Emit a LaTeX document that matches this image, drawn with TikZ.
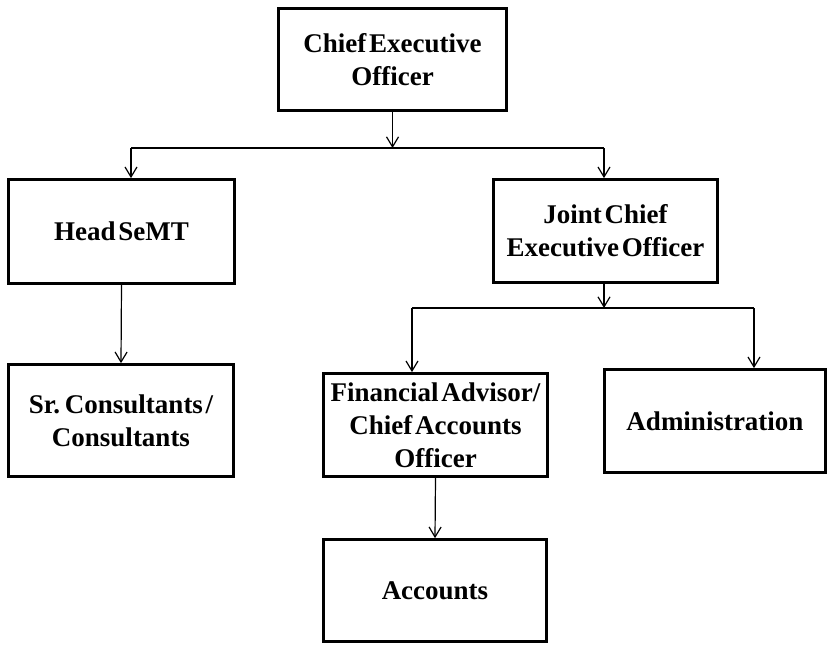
\documentclass[tikz,border=0pt]{standalone}
\usepackage{fontspec}
\setmainfont{Liberation Serif}[WordSpace=0.4]
\usetikzlibrary{arrows.meta}
\begin{document}
\begin{tikzpicture}[x=1pt,y=-1pt,
  box/.style={draw, line width=2.7pt, align=center, inner sep=0pt,
    font=\fontsize{27}{33}\selectfont\bfseries},
  conn/.style={line width=1.2pt},
  arr/.style={conn, -{Straight Barb[length=10pt,width=12pt,line width=1.2pt]}}]
  \useasboundingbox (0,0) rectangle (828,645);
  % organisation boxes
  \node[box, minimum width=228pt, minimum height=102pt] (ceo)  at (392.5,59.5) {Chief Executive\\Officer};
  \node[box, minimum width=226pt, minimum height=104pt] (head) at (121.5,231.5) {Head SeMT};
  \node[box, minimum width=224pt, minimum height=103pt] (jceo) at (605.5,231) {Joint Chief\\Executive Officer};
  \node[box, minimum width=225pt, minimum height=112pt] (sr)   at (121,420.5) {Sr. Consultants /\\Consultants};
  \node[box, minimum width=224pt, minimum height=103pt] (fin)  at (435.5,425) {Financial Advisor/\\Chief Accounts\\Officer};
  \node[box, minimum width=221pt, minimum height=103pt] (adm)  at (715,421) {Administration};
  \node[box, minimum width=223pt, minimum height=102pt] (acc)  at (435,590.5) {Accounts};
  % bus lines
  \coordinate (b1)  at (392.5,148);
  \coordinate (b1l) at (131,148);
  \coordinate (b1r) at (604,148);
  \coordinate (b2)  at (604,308);
  \coordinate (b2l) at (412,308);
  \coordinate (b2r) at (754,308);
  % connectors
  \draw[arr] (ceo.south) -- (b1);
  \draw[conn] (b1l) -- (b1r);
  \draw[arr] (b1l) -- (b1l |- head.north);
  \draw[arr] (b1r) -- (b1r |- jceo.north);
  \draw[arr] (head.south) -- (sr.north);
  \draw[arr] (b2 |- jceo.south) -- (b2);
  \draw[conn] (b2l) -- (b2r);
  \draw[arr] (b2l) -- (b2l |- fin.north);
  \draw[arr] (b2r) -- (b2r |- adm.north);
  \draw[arr] (fin.south) -- (acc.north);
\end{tikzpicture}
\end{document}
